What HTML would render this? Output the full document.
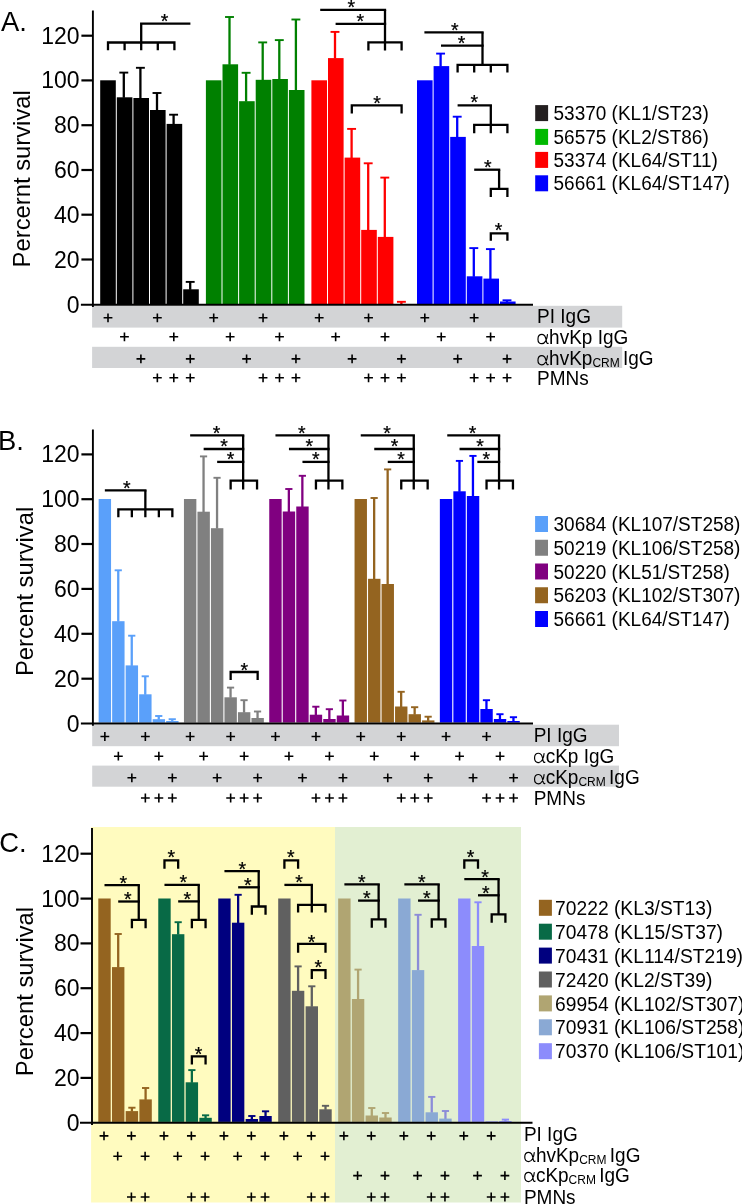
<!DOCTYPE html>
<html><head><meta charset="utf-8"><title>Figure</title>
<style>
html,body{margin:0;padding:0;background:#fff;}
body{width:742px;height:1204px;overflow:hidden;font-family:"Liberation Sans",sans-serif;}
svg{display:block;will-change:transform;}
text{fill:#000;white-space:pre;}
</style></head><body>
<svg width="742" height="1204" viewBox="0 0 742 1204">
<rect x="0" y="0" width="742" height="1204" fill="#fff"/>
<rect x="91.1" y="827" width="243.9" height="375.5" fill="#FFFBBF"/>
<rect x="335" y="827" width="186" height="375.5" fill="#E2EFD2"/>
<rect x="92.1" y="305.8" width="530.1" height="21.8" fill="#D3D4D6"/>
<rect x="92.1" y="346.8" width="530.1" height="21.2" fill="#D3D4D6"/>
<rect x="100.2" y="80.3" width="15.6" height="223.7" fill="#000000"/>
<line x1="123.8" y1="72.6" x2="123.8" y2="97.8" stroke="#000000" stroke-width="2.3" stroke-linecap="butt"/>
<line x1="119.35" y1="72.6" x2="128.25" y2="72.6" stroke="#000000" stroke-width="1.9" stroke-linecap="butt"/>
<rect x="116.8" y="97.3" width="15.6" height="206.7" fill="#000000"/>
<line x1="140.4" y1="67.8" x2="140.4" y2="98.5" stroke="#000000" stroke-width="2.3" stroke-linecap="butt"/>
<line x1="135.95" y1="67.8" x2="144.85" y2="67.8" stroke="#000000" stroke-width="1.9" stroke-linecap="butt"/>
<rect x="133.4" y="98" width="15.6" height="206" fill="#000000"/>
<line x1="157" y1="93" x2="157" y2="110.5" stroke="#000000" stroke-width="2.3" stroke-linecap="butt"/>
<line x1="152.55" y1="93" x2="161.45" y2="93" stroke="#000000" stroke-width="1.9" stroke-linecap="butt"/>
<rect x="150" y="110" width="15.6" height="194" fill="#000000"/>
<line x1="173.6" y1="114.7" x2="173.6" y2="124.4" stroke="#000000" stroke-width="2.3" stroke-linecap="butt"/>
<line x1="169.15" y1="114.7" x2="178.05" y2="114.7" stroke="#000000" stroke-width="1.9" stroke-linecap="butt"/>
<rect x="166.6" y="123.9" width="15.6" height="180.1" fill="#000000"/>
<line x1="190.2" y1="281.9" x2="190.2" y2="289.8" stroke="#000000" stroke-width="2.3" stroke-linecap="butt"/>
<line x1="185.75" y1="281.9" x2="194.65" y2="281.9" stroke="#000000" stroke-width="1.9" stroke-linecap="butt"/>
<rect x="183.2" y="289.3" width="15.6" height="14.7" fill="#000000"/>
<rect x="205.9" y="80.3" width="15.6" height="223.7" fill="#008000"/>
<line x1="229.5" y1="17" x2="229.5" y2="64.8" stroke="#008000" stroke-width="2.3" stroke-linecap="butt"/>
<line x1="225.05" y1="17" x2="233.95" y2="17" stroke="#008000" stroke-width="1.9" stroke-linecap="butt"/>
<rect x="222.5" y="64.3" width="15.6" height="239.7" fill="#008000"/>
<line x1="246.1" y1="72.8" x2="246.1" y2="101.7" stroke="#008000" stroke-width="2.3" stroke-linecap="butt"/>
<line x1="241.65" y1="72.8" x2="250.55" y2="72.8" stroke="#008000" stroke-width="1.9" stroke-linecap="butt"/>
<rect x="239.1" y="101.2" width="15.6" height="202.8" fill="#008000"/>
<line x1="262.7" y1="42.4" x2="262.7" y2="80.3" stroke="#008000" stroke-width="2.3" stroke-linecap="butt"/>
<line x1="258.25" y1="42.4" x2="267.15" y2="42.4" stroke="#008000" stroke-width="1.9" stroke-linecap="butt"/>
<rect x="255.7" y="79.8" width="15.6" height="224.2" fill="#008000"/>
<line x1="279.3" y1="40.1" x2="279.3" y2="79.5" stroke="#008000" stroke-width="2.3" stroke-linecap="butt"/>
<line x1="274.85" y1="40.1" x2="283.75" y2="40.1" stroke="#008000" stroke-width="1.9" stroke-linecap="butt"/>
<rect x="272.3" y="79" width="15.6" height="225" fill="#008000"/>
<line x1="295.9" y1="19.5" x2="295.9" y2="90.5" stroke="#008000" stroke-width="2.3" stroke-linecap="butt"/>
<line x1="291.45" y1="19.5" x2="300.35" y2="19.5" stroke="#008000" stroke-width="1.9" stroke-linecap="butt"/>
<rect x="288.9" y="90" width="15.6" height="214" fill="#008000"/>
<rect x="311.4" y="80.3" width="15.6" height="223.7" fill="#FF0000"/>
<line x1="335" y1="31.9" x2="335" y2="58.6" stroke="#FF0000" stroke-width="2.3" stroke-linecap="butt"/>
<line x1="330.55" y1="31.9" x2="339.45" y2="31.9" stroke="#FF0000" stroke-width="1.9" stroke-linecap="butt"/>
<rect x="328" y="58.1" width="15.6" height="245.9" fill="#FF0000"/>
<line x1="351.6" y1="128.9" x2="351.6" y2="158.1" stroke="#FF0000" stroke-width="2.3" stroke-linecap="butt"/>
<line x1="347.15" y1="128.9" x2="356.05" y2="128.9" stroke="#FF0000" stroke-width="1.9" stroke-linecap="butt"/>
<rect x="344.6" y="157.6" width="15.6" height="146.4" fill="#FF0000"/>
<line x1="368.2" y1="163.3" x2="368.2" y2="230.4" stroke="#FF0000" stroke-width="2.3" stroke-linecap="butt"/>
<line x1="363.75" y1="163.3" x2="372.65" y2="163.3" stroke="#FF0000" stroke-width="1.9" stroke-linecap="butt"/>
<rect x="361.2" y="229.9" width="15.6" height="74.1" fill="#FF0000"/>
<line x1="384.8" y1="177.6" x2="384.8" y2="237.4" stroke="#FF0000" stroke-width="2.3" stroke-linecap="butt"/>
<line x1="380.35" y1="177.6" x2="389.25" y2="177.6" stroke="#FF0000" stroke-width="1.9" stroke-linecap="butt"/>
<rect x="377.8" y="236.9" width="15.6" height="67.1" fill="#FF0000"/>
<line x1="401.4" y1="301.8" x2="401.4" y2="304.7" stroke="#FF0000" stroke-width="2.3" stroke-linecap="butt"/>
<line x1="396.95" y1="301.8" x2="405.85" y2="301.8" stroke="#FF0000" stroke-width="1.9" stroke-linecap="butt"/>
<rect x="394.4" y="304.2" width="15.6" height="-0.2" fill="#FF0000"/>
<rect x="417" y="80.3" width="15.6" height="223.7" fill="#0000FF"/>
<line x1="440.6" y1="53.6" x2="440.6" y2="66.6" stroke="#0000FF" stroke-width="2.3" stroke-linecap="butt"/>
<line x1="436.15" y1="53.6" x2="445.05" y2="53.6" stroke="#0000FF" stroke-width="1.9" stroke-linecap="butt"/>
<rect x="433.6" y="66.1" width="15.6" height="237.9" fill="#0000FF"/>
<line x1="457.2" y1="116.7" x2="457.2" y2="137.4" stroke="#0000FF" stroke-width="2.3" stroke-linecap="butt"/>
<line x1="452.75" y1="116.7" x2="461.65" y2="116.7" stroke="#0000FF" stroke-width="1.9" stroke-linecap="butt"/>
<rect x="450.2" y="136.9" width="15.6" height="167.1" fill="#0000FF"/>
<line x1="473.8" y1="248.1" x2="473.8" y2="276.8" stroke="#0000FF" stroke-width="2.3" stroke-linecap="butt"/>
<line x1="469.35" y1="248.1" x2="478.25" y2="248.1" stroke="#0000FF" stroke-width="1.9" stroke-linecap="butt"/>
<rect x="466.8" y="276.3" width="15.6" height="27.7" fill="#0000FF"/>
<line x1="490.4" y1="249.1" x2="490.4" y2="279.1" stroke="#0000FF" stroke-width="2.3" stroke-linecap="butt"/>
<line x1="485.95" y1="249.1" x2="494.85" y2="249.1" stroke="#0000FF" stroke-width="1.9" stroke-linecap="butt"/>
<rect x="483.4" y="278.6" width="15.6" height="25.4" fill="#0000FF"/>
<line x1="507" y1="300.3" x2="507" y2="302" stroke="#0000FF" stroke-width="2.3" stroke-linecap="butt"/>
<line x1="502.55" y1="300.3" x2="511.45" y2="300.3" stroke="#0000FF" stroke-width="1.9" stroke-linecap="butt"/>
<rect x="500" y="301.5" width="15.6" height="2.5" fill="#0000FF"/>
<line x1="92.9" y1="10.5" x2="92.9" y2="307" stroke="#000" stroke-width="1.9" stroke-linecap="butt"/>
<line x1="80.9" y1="304.8" x2="533" y2="304.8" stroke="#000" stroke-width="2.1" stroke-linecap="butt"/>
<line x1="81.4" y1="35.7" x2="92.9" y2="35.7" stroke="#000" stroke-width="2.2" stroke-linecap="butt"/>
<text xml:space="preserve" transform="translate(79.5 43.7) scale(1 1.035)" font-family='"Liberation Sans", sans-serif' font-size="23" text-anchor="end">120</text>
<line x1="81.4" y1="80.4" x2="92.9" y2="80.4" stroke="#000" stroke-width="2.2" stroke-linecap="butt"/>
<text xml:space="preserve" transform="translate(79.5 88.4) scale(1 1.035)" font-family='"Liberation Sans", sans-serif' font-size="23" text-anchor="end">100</text>
<line x1="81.4" y1="125.2" x2="92.9" y2="125.2" stroke="#000" stroke-width="2.2" stroke-linecap="butt"/>
<text xml:space="preserve" transform="translate(79.5 133.2) scale(1 1.035)" font-family='"Liberation Sans", sans-serif' font-size="23" text-anchor="end">80</text>
<line x1="81.4" y1="170" x2="92.9" y2="170" stroke="#000" stroke-width="2.2" stroke-linecap="butt"/>
<text xml:space="preserve" transform="translate(79.5 178) scale(1 1.035)" font-family='"Liberation Sans", sans-serif' font-size="23" text-anchor="end">60</text>
<line x1="81.4" y1="214.7" x2="92.9" y2="214.7" stroke="#000" stroke-width="2.2" stroke-linecap="butt"/>
<text xml:space="preserve" transform="translate(79.5 222.7) scale(1 1.035)" font-family='"Liberation Sans", sans-serif' font-size="23" text-anchor="end">40</text>
<line x1="81.4" y1="259.5" x2="92.9" y2="259.5" stroke="#000" stroke-width="2.2" stroke-linecap="butt"/>
<text xml:space="preserve" transform="translate(79.5 267.5) scale(1 1.035)" font-family='"Liberation Sans", sans-serif' font-size="23" text-anchor="end">20</text>
<text xml:space="preserve" transform="translate(79.5 312.8) scale(1 1.035)" font-family='"Liberation Sans", sans-serif' font-size="23" text-anchor="end">0</text>
<path d="M108 50.2V42.5H174.4V50.2M124.6 42.5V50.2M141.2 42.5V50.2M157.8 42.5V50.2" fill="none" stroke="#000" stroke-width="2.3" stroke-linejoin="miter"/>
<path d="M141.2 42.5V23.7H190.4" fill="none" stroke="#000" stroke-width="2.3" stroke-linejoin="miter"/>
<text xml:space="preserve" transform="translate(164.6 27.6) scale(1 1)" font-family='"Liberation Sans", sans-serif' font-size="19.5" text-anchor="middle" stroke="#000" stroke-width="0.25">*</text>
<line x1="320.2" y1="9.8" x2="386.15" y2="9.8" stroke="#000" stroke-width="2.3" stroke-linecap="butt"/>
<line x1="335.6" y1="23.9" x2="386.15" y2="23.9" stroke="#000" stroke-width="2.3" stroke-linecap="butt"/>
<line x1="385" y1="9.8" x2="385" y2="42.3" stroke="#000" stroke-width="2.3" stroke-linecap="butt"/>
<path d="M368.4 50.4V42.3H401.6V50.4M385 42.3V50.4" fill="none" stroke="#000" stroke-width="2.3" stroke-linejoin="miter"/>
<text xml:space="preserve" transform="translate(351.4 14) scale(1 1)" font-family='"Liberation Sans", sans-serif' font-size="19.5" text-anchor="middle" stroke="#000" stroke-width="0.25">*</text>
<text xml:space="preserve" transform="translate(360.4 27.7) scale(1 1)" font-family='"Liberation Sans", sans-serif' font-size="19.5" text-anchor="middle" stroke="#000" stroke-width="0.25">*</text>
<path d="M351.8 113.6V105.3H401.6V113.6" fill="none" stroke="#000" stroke-width="2.3" stroke-linejoin="miter"/>
<text xml:space="preserve" transform="translate(377 109.6) scale(1 1)" font-family='"Liberation Sans", sans-serif' font-size="19.5" text-anchor="middle" stroke="#000" stroke-width="0.25">*</text>
<line x1="424.4" y1="32.4" x2="483.65" y2="32.4" stroke="#000" stroke-width="2.3" stroke-linecap="butt"/>
<line x1="441" y1="45.7" x2="483.65" y2="45.7" stroke="#000" stroke-width="2.3" stroke-linecap="butt"/>
<line x1="482.5" y1="32.4" x2="482.5" y2="64.8" stroke="#000" stroke-width="2.3" stroke-linecap="butt"/>
<path d="M457.6 72.6V64.8H507.4V72.6M474.2 64.8V72.6M490.8 64.8V72.6" fill="none" stroke="#000" stroke-width="2.3" stroke-linejoin="miter"/>
<text xml:space="preserve" transform="translate(454.8 36.8) scale(1 1)" font-family='"Liberation Sans", sans-serif' font-size="19.5" text-anchor="middle" stroke="#000" stroke-width="0.25">*</text>
<text xml:space="preserve" transform="translate(461.5 50) scale(1 1)" font-family='"Liberation Sans", sans-serif' font-size="19.5" text-anchor="middle" stroke="#000" stroke-width="0.25">*</text>
<line x1="457.6" y1="105.3" x2="491.95" y2="105.3" stroke="#000" stroke-width="2.3" stroke-linecap="butt"/>
<line x1="490.8" y1="105.3" x2="490.8" y2="124.9" stroke="#000" stroke-width="2.3" stroke-linecap="butt"/>
<path d="M474.2 133.2V124.9H507.4V133.2M490.8 124.9V133.2" fill="none" stroke="#000" stroke-width="2.3" stroke-linejoin="miter"/>
<text xml:space="preserve" transform="translate(474.2 109.4) scale(1 1)" font-family='"Liberation Sans", sans-serif' font-size="19.5" text-anchor="middle" stroke="#000" stroke-width="0.25">*</text>
<line x1="474.2" y1="169.7" x2="500.25" y2="169.7" stroke="#000" stroke-width="2.3" stroke-linecap="butt"/>
<line x1="499.1" y1="169.7" x2="499.1" y2="188.9" stroke="#000" stroke-width="2.3" stroke-linecap="butt"/>
<path d="M490.8 197V188.9H507.4V197" fill="none" stroke="#000" stroke-width="2.3" stroke-linejoin="miter"/>
<text xml:space="preserve" transform="translate(487.7 173.5) scale(1 1)" font-family='"Liberation Sans", sans-serif' font-size="19.5" text-anchor="middle" stroke="#000" stroke-width="0.25">*</text>
<path d="M490.8 240.8V233.3H507.4V240.8" fill="none" stroke="#000" stroke-width="2.3" stroke-linejoin="miter"/>
<text xml:space="preserve" transform="translate(498.6 237.4) scale(1 1)" font-family='"Liberation Sans", sans-serif' font-size="19.5" text-anchor="middle" stroke="#000" stroke-width="0.25">*</text>
<path d="M103.6 317.8H112.4M108 313.4V322.2" stroke="#000" stroke-width="1.6" fill="none"/>
<path d="M152.95 317.8H161.75M157.35 313.4V322.2" stroke="#000" stroke-width="1.6" fill="none"/>
<path d="M120.05 336.8H128.85M124.45 332.4V341.2" stroke="#000" stroke-width="1.6" fill="none"/>
<path d="M169.4 336.8H178.2M173.8 332.4V341.2" stroke="#000" stroke-width="1.6" fill="none"/>
<path d="M136.5 358.9H145.3M140.9 354.5V363.3" stroke="#000" stroke-width="1.6" fill="none"/>
<path d="M185.85 358.9H194.65M190.25 354.5V363.3" stroke="#000" stroke-width="1.6" fill="none"/>
<path d="M152.95 377.8H161.75M157.35 373.4V382.2" stroke="#000" stroke-width="1.6" fill="none"/>
<path d="M169.4 377.8H178.2M173.8 373.4V382.2" stroke="#000" stroke-width="1.6" fill="none"/>
<path d="M185.85 377.8H194.65M190.25 373.4V382.2" stroke="#000" stroke-width="1.6" fill="none"/>
<path d="M209.3 317.8H218.1M213.7 313.4V322.2" stroke="#000" stroke-width="1.6" fill="none"/>
<path d="M258.65 317.8H267.45M263.05 313.4V322.2" stroke="#000" stroke-width="1.6" fill="none"/>
<path d="M225.75 336.8H234.55M230.15 332.4V341.2" stroke="#000" stroke-width="1.6" fill="none"/>
<path d="M275.1 336.8H283.9M279.5 332.4V341.2" stroke="#000" stroke-width="1.6" fill="none"/>
<path d="M242.2 358.9H251M246.6 354.5V363.3" stroke="#000" stroke-width="1.6" fill="none"/>
<path d="M291.55 358.9H300.35M295.95 354.5V363.3" stroke="#000" stroke-width="1.6" fill="none"/>
<path d="M258.65 377.8H267.45M263.05 373.4V382.2" stroke="#000" stroke-width="1.6" fill="none"/>
<path d="M275.1 377.8H283.9M279.5 373.4V382.2" stroke="#000" stroke-width="1.6" fill="none"/>
<path d="M291.55 377.8H300.35M295.95 373.4V382.2" stroke="#000" stroke-width="1.6" fill="none"/>
<path d="M314.8 317.8H323.6M319.2 313.4V322.2" stroke="#000" stroke-width="1.6" fill="none"/>
<path d="M364.15 317.8H372.95M368.55 313.4V322.2" stroke="#000" stroke-width="1.6" fill="none"/>
<path d="M331.25 336.8H340.05M335.65 332.4V341.2" stroke="#000" stroke-width="1.6" fill="none"/>
<path d="M380.6 336.8H389.4M385 332.4V341.2" stroke="#000" stroke-width="1.6" fill="none"/>
<path d="M347.7 358.9H356.5M352.1 354.5V363.3" stroke="#000" stroke-width="1.6" fill="none"/>
<path d="M397.05 358.9H405.85M401.45 354.5V363.3" stroke="#000" stroke-width="1.6" fill="none"/>
<path d="M364.15 377.8H372.95M368.55 373.4V382.2" stroke="#000" stroke-width="1.6" fill="none"/>
<path d="M380.6 377.8H389.4M385 373.4V382.2" stroke="#000" stroke-width="1.6" fill="none"/>
<path d="M397.05 377.8H405.85M401.45 373.4V382.2" stroke="#000" stroke-width="1.6" fill="none"/>
<path d="M420.4 317.8H429.2M424.8 313.4V322.2" stroke="#000" stroke-width="1.6" fill="none"/>
<path d="M469.75 317.8H478.55M474.15 313.4V322.2" stroke="#000" stroke-width="1.6" fill="none"/>
<path d="M436.85 336.8H445.65M441.25 332.4V341.2" stroke="#000" stroke-width="1.6" fill="none"/>
<path d="M486.2 336.8H495M490.6 332.4V341.2" stroke="#000" stroke-width="1.6" fill="none"/>
<path d="M453.3 358.9H462.1M457.7 354.5V363.3" stroke="#000" stroke-width="1.6" fill="none"/>
<path d="M502.65 358.9H511.45M507.05 354.5V363.3" stroke="#000" stroke-width="1.6" fill="none"/>
<path d="M469.75 377.8H478.55M474.15 373.4V382.2" stroke="#000" stroke-width="1.6" fill="none"/>
<path d="M486.2 377.8H495M490.6 373.4V382.2" stroke="#000" stroke-width="1.6" fill="none"/>
<path d="M502.65 377.8H511.45M507.05 373.4V382.2" stroke="#000" stroke-width="1.6" fill="none"/>
<text xml:space="preserve" transform="translate(537.1 322.5) scale(1 1.035)" font-family='"Liberation Sans", sans-serif' font-size="19" text-anchor="start">PI IgG</text>
<path d="M547.46 334.58C547.17 339.8 544.7 343.7 541.95 343.7C539.38 343.7 537.96 341.7 537.96 339.14C537.96 336.48 539.48 334.39 542.04 334.39C544.7 334.39 545.84 337.33 546.32 340.94C546.6 343.03 547.46 343.89 548.22 343.31" fill="none" stroke="#000" stroke-width="1.18" stroke-linecap="round" stroke-linejoin="round"/>
<text xml:space="preserve" transform="translate(549.09 343.6) scale(1 1.035)" font-family='"Liberation Sans", sans-serif' font-size="19" text-anchor="start">hvKp IgG</text>
<path d="M547.46 355.78C547.17 361 544.7 364.9 541.95 364.9C539.38 364.9 537.96 362.9 537.96 360.34C537.96 357.68 539.48 355.59 542.04 355.59C544.7 355.59 545.84 358.53 546.32 362.14C546.6 364.23 547.46 365.09 548.22 364.51" fill="none" stroke="#000" stroke-width="1.18" stroke-linecap="round" stroke-linejoin="round"/>
<text xml:space="preserve" transform="translate(549.09 364.8) scale(1 1.035)" font-family='"Liberation Sans", sans-serif' font-size="19" text-anchor="start">hvKp<tspan font-size="12" dy="2">CRM </tspan><tspan dy="-2">IgG</tspan></text>
<text xml:space="preserve" transform="translate(537.1 385.4) scale(1 1.035)" font-family='"Liberation Sans", sans-serif' font-size="19" text-anchor="start">PMNs</text>
<rect x="535.2" y="105.1" width="12.9" height="16" fill="#231F20"/>
<text xml:space="preserve" transform="translate(553.5 120.2) scale(1 1.035)" font-family='"Liberation Sans", sans-serif' font-size="19" text-anchor="start">53370 (KL1/ST23)</text>
<rect x="535.2" y="128.9" width="12.9" height="16" fill="#00B900"/>
<text xml:space="preserve" transform="translate(553.5 143.6) scale(1 1.035)" font-family='"Liberation Sans", sans-serif' font-size="19" text-anchor="start">56575 (KL2/ST86)</text>
<rect x="535.2" y="151.9" width="12.9" height="16" fill="#FF0000"/>
<text xml:space="preserve" transform="translate(553.5 167) scale(1 1.035)" font-family='"Liberation Sans", sans-serif' font-size="19" text-anchor="start">53374 (KL64/ST11)</text>
<rect x="535.2" y="175.3" width="12.9" height="16" fill="#0000FF"/>
<text xml:space="preserve" transform="translate(553.5 190.4) scale(1 1.035)" font-family='"Liberation Sans", sans-serif' font-size="19" text-anchor="start">56661 (KL64/ST147)</text>
<text xml:space="preserve" transform="translate(1.1 30.9) scale(1 1.035)" font-family='"Liberation Sans", sans-serif' font-size="27.4" text-anchor="start">A.</text>
<text transform="translate(30.3 267.4) rotate(-90)" font-family='"Liberation Sans", sans-serif' font-size="23.8">Percernt survival</text>
<rect x="92.2" y="724.7" width="526.8" height="21.5" fill="#D3D4D6"/>
<rect x="92.2" y="765.6" width="526.8" height="21.1" fill="#D3D4D6"/>
<rect x="98.65" y="499" width="12.4" height="223.6" fill="#5AA0FA"/>
<line x1="118.25" y1="570.3" x2="118.25" y2="621.7" stroke="#5AA0FA" stroke-width="2.3" stroke-linecap="butt"/>
<line x1="114.65" y1="570.3" x2="121.85" y2="570.3" stroke="#5AA0FA" stroke-width="1.9" stroke-linecap="butt"/>
<rect x="112.15" y="621.2" width="12.4" height="101.4" fill="#5AA0FA"/>
<line x1="131.75" y1="635.7" x2="131.75" y2="665.9" stroke="#5AA0FA" stroke-width="2.3" stroke-linecap="butt"/>
<line x1="128.15" y1="635.7" x2="135.35" y2="635.7" stroke="#5AA0FA" stroke-width="1.9" stroke-linecap="butt"/>
<rect x="125.65" y="665.4" width="12.4" height="57.2" fill="#5AA0FA"/>
<line x1="145.25" y1="676.3" x2="145.25" y2="694.8" stroke="#5AA0FA" stroke-width="2.3" stroke-linecap="butt"/>
<line x1="141.65" y1="676.3" x2="148.85" y2="676.3" stroke="#5AA0FA" stroke-width="1.9" stroke-linecap="butt"/>
<rect x="139.15" y="694.3" width="12.4" height="28.3" fill="#5AA0FA"/>
<line x1="158.75" y1="716" x2="158.75" y2="719.7" stroke="#5AA0FA" stroke-width="2.3" stroke-linecap="butt"/>
<line x1="155.15" y1="716" x2="162.35" y2="716" stroke="#5AA0FA" stroke-width="1.9" stroke-linecap="butt"/>
<rect x="152.65" y="719.2" width="12.4" height="3.4" fill="#5AA0FA"/>
<line x1="172.25" y1="719.2" x2="172.25" y2="721.5" stroke="#5AA0FA" stroke-width="2.3" stroke-linecap="butt"/>
<line x1="168.65" y1="719.2" x2="175.85" y2="719.2" stroke="#5AA0FA" stroke-width="1.9" stroke-linecap="butt"/>
<rect x="166.15" y="721" width="12.4" height="1.6" fill="#5AA0FA"/>
<rect x="183.95" y="499" width="12.4" height="223.6" fill="#808080"/>
<line x1="203.55" y1="456.4" x2="203.55" y2="512.2" stroke="#808080" stroke-width="2.3" stroke-linecap="butt"/>
<line x1="199.95" y1="456.4" x2="207.15" y2="456.4" stroke="#808080" stroke-width="1.9" stroke-linecap="butt"/>
<rect x="197.45" y="511.7" width="12.4" height="210.9" fill="#808080"/>
<line x1="217.05" y1="477.8" x2="217.05" y2="528.7" stroke="#808080" stroke-width="2.3" stroke-linecap="butt"/>
<line x1="213.45" y1="477.8" x2="220.65" y2="477.8" stroke="#808080" stroke-width="1.9" stroke-linecap="butt"/>
<rect x="210.95" y="528.2" width="12.4" height="194.4" fill="#808080"/>
<line x1="230.55" y1="687.6" x2="230.55" y2="697.8" stroke="#808080" stroke-width="2.3" stroke-linecap="butt"/>
<line x1="226.95" y1="687.6" x2="234.15" y2="687.6" stroke="#808080" stroke-width="1.9" stroke-linecap="butt"/>
<rect x="224.45" y="697.3" width="12.4" height="25.3" fill="#808080"/>
<line x1="244.05" y1="700.2" x2="244.05" y2="712.7" stroke="#808080" stroke-width="2.3" stroke-linecap="butt"/>
<line x1="240.45" y1="700.2" x2="247.65" y2="700.2" stroke="#808080" stroke-width="1.9" stroke-linecap="butt"/>
<rect x="237.95" y="712.2" width="12.4" height="10.4" fill="#808080"/>
<line x1="257.55" y1="711.5" x2="257.55" y2="718.5" stroke="#808080" stroke-width="2.3" stroke-linecap="butt"/>
<line x1="253.95" y1="711.5" x2="261.15" y2="711.5" stroke="#808080" stroke-width="1.9" stroke-linecap="butt"/>
<rect x="251.45" y="718" width="12.4" height="4.6" fill="#808080"/>
<rect x="269.25" y="499" width="12.4" height="223.6" fill="#800080"/>
<line x1="288.85" y1="489" x2="288.85" y2="512" stroke="#800080" stroke-width="2.3" stroke-linecap="butt"/>
<line x1="285.25" y1="489" x2="292.45" y2="489" stroke="#800080" stroke-width="1.9" stroke-linecap="butt"/>
<rect x="282.75" y="511.5" width="12.4" height="211.1" fill="#800080"/>
<line x1="302.35" y1="475.8" x2="302.35" y2="507" stroke="#800080" stroke-width="2.3" stroke-linecap="butt"/>
<line x1="298.75" y1="475.8" x2="305.95" y2="475.8" stroke="#800080" stroke-width="1.9" stroke-linecap="butt"/>
<rect x="296.25" y="506.5" width="12.4" height="216.1" fill="#800080"/>
<line x1="315.85" y1="706.7" x2="315.85" y2="715.2" stroke="#800080" stroke-width="2.3" stroke-linecap="butt"/>
<line x1="312.25" y1="706.7" x2="319.45" y2="706.7" stroke="#800080" stroke-width="1.9" stroke-linecap="butt"/>
<rect x="309.75" y="714.7" width="12.4" height="7.9" fill="#800080"/>
<line x1="329.35" y1="709.2" x2="329.35" y2="719.5" stroke="#800080" stroke-width="2.3" stroke-linecap="butt"/>
<line x1="325.75" y1="709.2" x2="332.95" y2="709.2" stroke="#800080" stroke-width="1.9" stroke-linecap="butt"/>
<rect x="323.25" y="719" width="12.4" height="3.6" fill="#800080"/>
<line x1="342.85" y1="700.5" x2="342.85" y2="716" stroke="#800080" stroke-width="2.3" stroke-linecap="butt"/>
<line x1="339.25" y1="700.5" x2="346.45" y2="700.5" stroke="#800080" stroke-width="1.9" stroke-linecap="butt"/>
<rect x="336.75" y="715.5" width="12.4" height="7.1" fill="#800080"/>
<rect x="354.55" y="499" width="12.4" height="223.6" fill="#946420"/>
<line x1="374.15" y1="498" x2="374.15" y2="579.3" stroke="#946420" stroke-width="2.3" stroke-linecap="butt"/>
<line x1="370.55" y1="498" x2="377.75" y2="498" stroke="#946420" stroke-width="1.9" stroke-linecap="butt"/>
<rect x="368.05" y="578.8" width="12.4" height="143.8" fill="#946420"/>
<line x1="387.65" y1="469.4" x2="387.65" y2="584.5" stroke="#946420" stroke-width="2.3" stroke-linecap="butt"/>
<line x1="384.05" y1="469.4" x2="391.25" y2="469.4" stroke="#946420" stroke-width="1.9" stroke-linecap="butt"/>
<rect x="381.55" y="584" width="12.4" height="138.6" fill="#946420"/>
<line x1="401.15" y1="691.8" x2="401.15" y2="707" stroke="#946420" stroke-width="2.3" stroke-linecap="butt"/>
<line x1="397.55" y1="691.8" x2="404.75" y2="691.8" stroke="#946420" stroke-width="1.9" stroke-linecap="butt"/>
<rect x="395.05" y="706.5" width="12.4" height="16.1" fill="#946420"/>
<line x1="414.65" y1="707.2" x2="414.65" y2="714.7" stroke="#946420" stroke-width="2.3" stroke-linecap="butt"/>
<line x1="411.05" y1="707.2" x2="418.25" y2="707.2" stroke="#946420" stroke-width="1.9" stroke-linecap="butt"/>
<rect x="408.55" y="714.2" width="12.4" height="8.4" fill="#946420"/>
<line x1="428.15" y1="716.7" x2="428.15" y2="720.9" stroke="#946420" stroke-width="2.3" stroke-linecap="butt"/>
<line x1="424.55" y1="716.7" x2="431.75" y2="716.7" stroke="#946420" stroke-width="1.9" stroke-linecap="butt"/>
<rect x="422.05" y="720.4" width="12.4" height="2.2" fill="#946420"/>
<rect x="439.85" y="499" width="12.4" height="223.6" fill="#0000FF"/>
<line x1="459.45" y1="460.9" x2="459.45" y2="491.8" stroke="#0000FF" stroke-width="2.3" stroke-linecap="butt"/>
<line x1="455.85" y1="460.9" x2="463.05" y2="460.9" stroke="#0000FF" stroke-width="1.9" stroke-linecap="butt"/>
<rect x="453.35" y="491.3" width="12.4" height="231.3" fill="#0000FF"/>
<line x1="472.95" y1="455.9" x2="472.95" y2="496.5" stroke="#0000FF" stroke-width="2.3" stroke-linecap="butt"/>
<line x1="469.35" y1="455.9" x2="476.55" y2="455.9" stroke="#0000FF" stroke-width="1.9" stroke-linecap="butt"/>
<rect x="466.85" y="496" width="12.4" height="226.6" fill="#0000FF"/>
<line x1="486.45" y1="700.2" x2="486.45" y2="709.5" stroke="#0000FF" stroke-width="2.3" stroke-linecap="butt"/>
<line x1="482.85" y1="700.2" x2="490.05" y2="700.2" stroke="#0000FF" stroke-width="1.9" stroke-linecap="butt"/>
<rect x="480.35" y="709" width="12.4" height="13.6" fill="#0000FF"/>
<line x1="499.95" y1="714.2" x2="499.95" y2="719.5" stroke="#0000FF" stroke-width="2.3" stroke-linecap="butt"/>
<line x1="496.35" y1="714.2" x2="503.55" y2="714.2" stroke="#0000FF" stroke-width="1.9" stroke-linecap="butt"/>
<rect x="493.85" y="719" width="12.4" height="3.6" fill="#0000FF"/>
<line x1="513.45" y1="717.2" x2="513.45" y2="721.5" stroke="#0000FF" stroke-width="2.3" stroke-linecap="butt"/>
<line x1="509.85" y1="717.2" x2="517.05" y2="717.2" stroke="#0000FF" stroke-width="1.9" stroke-linecap="butt"/>
<rect x="507.35" y="721" width="12.4" height="1.6" fill="#0000FF"/>
<line x1="92.9" y1="429.5" x2="92.9" y2="725.7" stroke="#000" stroke-width="1.9" stroke-linecap="butt"/>
<line x1="80.9" y1="723.5" x2="533" y2="723.5" stroke="#000" stroke-width="2.1" stroke-linecap="butt"/>
<line x1="81.4" y1="454.4" x2="92.9" y2="454.4" stroke="#000" stroke-width="2.2" stroke-linecap="butt"/>
<text xml:space="preserve" transform="translate(79.5 462.4) scale(1 1.035)" font-family='"Liberation Sans", sans-serif' font-size="23" text-anchor="end">120</text>
<line x1="81.4" y1="499.2" x2="92.9" y2="499.2" stroke="#000" stroke-width="2.2" stroke-linecap="butt"/>
<text xml:space="preserve" transform="translate(79.5 507.2) scale(1 1.035)" font-family='"Liberation Sans", sans-serif' font-size="23" text-anchor="end">100</text>
<line x1="81.4" y1="544" x2="92.9" y2="544" stroke="#000" stroke-width="2.2" stroke-linecap="butt"/>
<text xml:space="preserve" transform="translate(79.5 552) scale(1 1.035)" font-family='"Liberation Sans", sans-serif' font-size="23" text-anchor="end">80</text>
<line x1="81.4" y1="588.9" x2="92.9" y2="588.9" stroke="#000" stroke-width="2.2" stroke-linecap="butt"/>
<text xml:space="preserve" transform="translate(79.5 596.9) scale(1 1.035)" font-family='"Liberation Sans", sans-serif' font-size="23" text-anchor="end">60</text>
<line x1="81.4" y1="633.8" x2="92.9" y2="633.8" stroke="#000" stroke-width="2.2" stroke-linecap="butt"/>
<text xml:space="preserve" transform="translate(79.5 641.8) scale(1 1.035)" font-family='"Liberation Sans", sans-serif' font-size="23" text-anchor="end">40</text>
<line x1="81.4" y1="678.7" x2="92.9" y2="678.7" stroke="#000" stroke-width="2.2" stroke-linecap="butt"/>
<text xml:space="preserve" transform="translate(79.5 686.7) scale(1 1.035)" font-family='"Liberation Sans", sans-serif' font-size="23" text-anchor="end">20</text>
<text xml:space="preserve" transform="translate(79.5 731.5) scale(1 1.035)" font-family='"Liberation Sans", sans-serif' font-size="23" text-anchor="end">0</text>
<line x1="104.85" y1="490.3" x2="146.5" y2="490.3" stroke="#000" stroke-width="2.3" stroke-linecap="butt"/>
<line x1="145.35" y1="490.3" x2="145.35" y2="509.3" stroke="#000" stroke-width="2.3" stroke-linecap="butt"/>
<path d="M118.35 517.3V509.3H172.35V517.3M131.85 509.3V517.3M145.35 509.3V517.3M158.85 509.3V517.3" fill="none" stroke="#000" stroke-width="2.3" stroke-linejoin="miter"/>
<text xml:space="preserve" transform="translate(126.7 494.8) scale(1 1)" font-family='"Liberation Sans", sans-serif' font-size="19.5" text-anchor="middle" stroke="#000" stroke-width="0.25">*</text>
<line x1="190.15" y1="435.4" x2="244.3" y2="435.4" stroke="#000" stroke-width="2.3" stroke-linecap="butt"/>
<line x1="203.65" y1="449" x2="244.3" y2="449" stroke="#000" stroke-width="2.3" stroke-linecap="butt"/>
<line x1="217.15" y1="461.9" x2="244.3" y2="461.9" stroke="#000" stroke-width="2.3" stroke-linecap="butt"/>
<line x1="243.15" y1="435.4" x2="243.15" y2="480.6" stroke="#000" stroke-width="2.3" stroke-linecap="butt"/>
<path d="M230.65 489.5V480.6H257.05V489.5M243.15 480.6V489.5" fill="none" stroke="#000" stroke-width="2.3" stroke-linejoin="miter"/>
<text xml:space="preserve" transform="translate(216.55 440.2) scale(1 1)" font-family='"Liberation Sans", sans-serif' font-size="19.5" text-anchor="middle" stroke="#000" stroke-width="0.25">*</text>
<text xml:space="preserve" transform="translate(224.05 452.9) scale(1 1)" font-family='"Liberation Sans", sans-serif' font-size="19.5" text-anchor="middle" stroke="#000" stroke-width="0.25">*</text>
<text xml:space="preserve" transform="translate(230.45 466.1) scale(1 1)" font-family='"Liberation Sans", sans-serif' font-size="19.5" text-anchor="middle" stroke="#000" stroke-width="0.25">*</text>
<line x1="275.45" y1="435.4" x2="329.6" y2="435.4" stroke="#000" stroke-width="2.3" stroke-linecap="butt"/>
<line x1="288.95" y1="449" x2="329.6" y2="449" stroke="#000" stroke-width="2.3" stroke-linecap="butt"/>
<line x1="302.45" y1="461.9" x2="329.6" y2="461.9" stroke="#000" stroke-width="2.3" stroke-linecap="butt"/>
<line x1="328.45" y1="435.4" x2="328.45" y2="480.6" stroke="#000" stroke-width="2.3" stroke-linecap="butt"/>
<path d="M315.95 489.5V480.6H342.35V489.5M328.45 480.6V489.5" fill="none" stroke="#000" stroke-width="2.3" stroke-linejoin="miter"/>
<text xml:space="preserve" transform="translate(301.85 440.2) scale(1 1)" font-family='"Liberation Sans", sans-serif' font-size="19.5" text-anchor="middle" stroke="#000" stroke-width="0.25">*</text>
<text xml:space="preserve" transform="translate(309.35 452.9) scale(1 1)" font-family='"Liberation Sans", sans-serif' font-size="19.5" text-anchor="middle" stroke="#000" stroke-width="0.25">*</text>
<text xml:space="preserve" transform="translate(315.75 466.1) scale(1 1)" font-family='"Liberation Sans", sans-serif' font-size="19.5" text-anchor="middle" stroke="#000" stroke-width="0.25">*</text>
<line x1="360.75" y1="435.4" x2="414.9" y2="435.4" stroke="#000" stroke-width="2.3" stroke-linecap="butt"/>
<line x1="374.25" y1="449" x2="414.9" y2="449" stroke="#000" stroke-width="2.3" stroke-linecap="butt"/>
<line x1="387.75" y1="461.9" x2="414.9" y2="461.9" stroke="#000" stroke-width="2.3" stroke-linecap="butt"/>
<line x1="413.75" y1="435.4" x2="413.75" y2="480.6" stroke="#000" stroke-width="2.3" stroke-linecap="butt"/>
<path d="M401.25 489.5V480.6H427.65V489.5M413.75 480.6V489.5" fill="none" stroke="#000" stroke-width="2.3" stroke-linejoin="miter"/>
<text xml:space="preserve" transform="translate(387.15 440.2) scale(1 1)" font-family='"Liberation Sans", sans-serif' font-size="19.5" text-anchor="middle" stroke="#000" stroke-width="0.25">*</text>
<text xml:space="preserve" transform="translate(394.65 452.9) scale(1 1)" font-family='"Liberation Sans", sans-serif' font-size="19.5" text-anchor="middle" stroke="#000" stroke-width="0.25">*</text>
<text xml:space="preserve" transform="translate(401.05 466.1) scale(1 1)" font-family='"Liberation Sans", sans-serif' font-size="19.5" text-anchor="middle" stroke="#000" stroke-width="0.25">*</text>
<line x1="447.25" y1="435.4" x2="500.2" y2="435.4" stroke="#000" stroke-width="2.3" stroke-linecap="butt"/>
<line x1="459.55" y1="449" x2="500.2" y2="449" stroke="#000" stroke-width="2.3" stroke-linecap="butt"/>
<line x1="477.35" y1="461.9" x2="500.2" y2="461.9" stroke="#000" stroke-width="2.3" stroke-linecap="butt"/>
<line x1="499.05" y1="435.4" x2="499.05" y2="480.6" stroke="#000" stroke-width="2.3" stroke-linecap="butt"/>
<path d="M486.55 489.5V480.6H512.95V489.5M499.05 480.6V489.5" fill="none" stroke="#000" stroke-width="2.3" stroke-linejoin="miter"/>
<text xml:space="preserve" transform="translate(472.45 440.2) scale(1 1)" font-family='"Liberation Sans", sans-serif' font-size="19.5" text-anchor="middle" stroke="#000" stroke-width="0.25">*</text>
<text xml:space="preserve" transform="translate(479.95 452.9) scale(1 1)" font-family='"Liberation Sans", sans-serif' font-size="19.5" text-anchor="middle" stroke="#000" stroke-width="0.25">*</text>
<text xml:space="preserve" transform="translate(486.35 466.1) scale(1 1)" font-family='"Liberation Sans", sans-serif' font-size="19.5" text-anchor="middle" stroke="#000" stroke-width="0.25">*</text>
<path d="M230.65 679.9V672H257.65V679.9" fill="none" stroke="#000" stroke-width="2.3" stroke-linejoin="miter"/>
<text xml:space="preserve" transform="translate(244.3 676.7) scale(1 1)" font-family='"Liberation Sans", sans-serif' font-size="19.5" text-anchor="middle" stroke="#000" stroke-width="0.25">*</text>
<path d="M100.45 736.5H109.25M104.85 732.1V740.9" stroke="#000" stroke-width="1.6" fill="none"/>
<path d="M140.95 736.5H149.75M145.35 732.1V740.9" stroke="#000" stroke-width="1.6" fill="none"/>
<path d="M113.95 756.2H122.75M118.35 751.8V760.6" stroke="#000" stroke-width="1.6" fill="none"/>
<path d="M154.45 756.2H163.25M158.85 751.8V760.6" stroke="#000" stroke-width="1.6" fill="none"/>
<path d="M127.45 777.8H136.25M131.85 773.4V782.2" stroke="#000" stroke-width="1.6" fill="none"/>
<path d="M167.95 777.8H176.75M172.35 773.4V782.2" stroke="#000" stroke-width="1.6" fill="none"/>
<path d="M140.95 798H149.75M145.35 793.6V802.4" stroke="#000" stroke-width="1.6" fill="none"/>
<path d="M154.45 798H163.25M158.85 793.6V802.4" stroke="#000" stroke-width="1.6" fill="none"/>
<path d="M167.95 798H176.75M172.35 793.6V802.4" stroke="#000" stroke-width="1.6" fill="none"/>
<path d="M185.75 736.5H194.55M190.15 732.1V740.9" stroke="#000" stroke-width="1.6" fill="none"/>
<path d="M226.25 736.5H235.05M230.65 732.1V740.9" stroke="#000" stroke-width="1.6" fill="none"/>
<path d="M199.25 756.2H208.05M203.65 751.8V760.6" stroke="#000" stroke-width="1.6" fill="none"/>
<path d="M239.75 756.2H248.55M244.15 751.8V760.6" stroke="#000" stroke-width="1.6" fill="none"/>
<path d="M212.75 777.8H221.55M217.15 773.4V782.2" stroke="#000" stroke-width="1.6" fill="none"/>
<path d="M253.25 777.8H262.05M257.65 773.4V782.2" stroke="#000" stroke-width="1.6" fill="none"/>
<path d="M226.25 798H235.05M230.65 793.6V802.4" stroke="#000" stroke-width="1.6" fill="none"/>
<path d="M239.75 798H248.55M244.15 793.6V802.4" stroke="#000" stroke-width="1.6" fill="none"/>
<path d="M253.25 798H262.05M257.65 793.6V802.4" stroke="#000" stroke-width="1.6" fill="none"/>
<path d="M271.05 736.5H279.85M275.45 732.1V740.9" stroke="#000" stroke-width="1.6" fill="none"/>
<path d="M311.55 736.5H320.35M315.95 732.1V740.9" stroke="#000" stroke-width="1.6" fill="none"/>
<path d="M284.55 756.2H293.35M288.95 751.8V760.6" stroke="#000" stroke-width="1.6" fill="none"/>
<path d="M325.05 756.2H333.85M329.45 751.8V760.6" stroke="#000" stroke-width="1.6" fill="none"/>
<path d="M298.05 777.8H306.85M302.45 773.4V782.2" stroke="#000" stroke-width="1.6" fill="none"/>
<path d="M338.55 777.8H347.35M342.95 773.4V782.2" stroke="#000" stroke-width="1.6" fill="none"/>
<path d="M311.55 798H320.35M315.95 793.6V802.4" stroke="#000" stroke-width="1.6" fill="none"/>
<path d="M325.05 798H333.85M329.45 793.6V802.4" stroke="#000" stroke-width="1.6" fill="none"/>
<path d="M338.55 798H347.35M342.95 793.6V802.4" stroke="#000" stroke-width="1.6" fill="none"/>
<path d="M356.35 736.5H365.15M360.75 732.1V740.9" stroke="#000" stroke-width="1.6" fill="none"/>
<path d="M396.85 736.5H405.65M401.25 732.1V740.9" stroke="#000" stroke-width="1.6" fill="none"/>
<path d="M369.85 756.2H378.65M374.25 751.8V760.6" stroke="#000" stroke-width="1.6" fill="none"/>
<path d="M410.35 756.2H419.15M414.75 751.8V760.6" stroke="#000" stroke-width="1.6" fill="none"/>
<path d="M383.35 777.8H392.15M387.75 773.4V782.2" stroke="#000" stroke-width="1.6" fill="none"/>
<path d="M423.85 777.8H432.65M428.25 773.4V782.2" stroke="#000" stroke-width="1.6" fill="none"/>
<path d="M396.85 798H405.65M401.25 793.6V802.4" stroke="#000" stroke-width="1.6" fill="none"/>
<path d="M410.35 798H419.15M414.75 793.6V802.4" stroke="#000" stroke-width="1.6" fill="none"/>
<path d="M423.85 798H432.65M428.25 793.6V802.4" stroke="#000" stroke-width="1.6" fill="none"/>
<path d="M441.65 736.5H450.45M446.05 732.1V740.9" stroke="#000" stroke-width="1.6" fill="none"/>
<path d="M482.15 736.5H490.95M486.55 732.1V740.9" stroke="#000" stroke-width="1.6" fill="none"/>
<path d="M455.15 756.2H463.95M459.55 751.8V760.6" stroke="#000" stroke-width="1.6" fill="none"/>
<path d="M495.65 756.2H504.45M500.05 751.8V760.6" stroke="#000" stroke-width="1.6" fill="none"/>
<path d="M468.65 777.8H477.45M473.05 773.4V782.2" stroke="#000" stroke-width="1.6" fill="none"/>
<path d="M509.15 777.8H517.95M513.55 773.4V782.2" stroke="#000" stroke-width="1.6" fill="none"/>
<path d="M482.15 798H490.95M486.55 793.6V802.4" stroke="#000" stroke-width="1.6" fill="none"/>
<path d="M495.65 798H504.45M500.05 793.6V802.4" stroke="#000" stroke-width="1.6" fill="none"/>
<path d="M509.15 798H517.95M513.55 793.6V802.4" stroke="#000" stroke-width="1.6" fill="none"/>
<text xml:space="preserve" transform="translate(533.7 741.7) scale(1 1.035)" font-family='"Liberation Sans", sans-serif' font-size="19" text-anchor="start">PI IgG</text>
<path d="M544.06 753.48C543.77 758.7 541.3 762.6 538.55 762.6C535.98 762.6 534.56 760.6 534.56 758.03C534.56 755.38 536.08 753.28 538.64 753.28C541.3 753.28 542.44 756.23 542.92 759.84C543.2 761.93 544.06 762.78 544.82 762.22" fill="none" stroke="#000" stroke-width="1.18" stroke-linecap="round" stroke-linejoin="round"/>
<text xml:space="preserve" transform="translate(545.69 762.5) scale(1 1.035)" font-family='"Liberation Sans", sans-serif' font-size="19" text-anchor="start">cKp IgG</text>
<path d="M544.06 774.68C543.77 779.9 541.3 783.8 538.55 783.8C535.98 783.8 534.56 781.8 534.56 779.24C534.56 776.58 536.08 774.49 538.64 774.49C541.3 774.49 542.44 777.43 542.92 781.04C543.2 783.13 544.06 783.99 544.82 783.42" fill="none" stroke="#000" stroke-width="1.18" stroke-linecap="round" stroke-linejoin="round"/>
<text xml:space="preserve" transform="translate(545.69 783.7) scale(1 1.035)" font-family='"Liberation Sans", sans-serif' font-size="19" text-anchor="start">cKp<tspan font-size="12" dy="2">CRM </tspan><tspan dy="-2">IgG</tspan></text>
<text xml:space="preserve" transform="translate(533.7 804.8) scale(1 1.035)" font-family='"Liberation Sans", sans-serif' font-size="19" text-anchor="start">PMNs</text>
<rect x="535.1" y="516" width="12.9" height="16" fill="#5AA0FA"/>
<text xml:space="preserve" transform="translate(553.5 531.1) scale(1 1.035)" font-family='"Liberation Sans", sans-serif' font-size="19" text-anchor="start">30684 (KL107/ST258)</text>
<rect x="535.1" y="539.75" width="12.9" height="16" fill="#808080"/>
<text xml:space="preserve" transform="translate(553.5 554.85) scale(1 1.035)" font-family='"Liberation Sans", sans-serif' font-size="19" text-anchor="start">50219 (KL106/ST258)</text>
<rect x="535.1" y="563.5" width="12.9" height="16" fill="#800080"/>
<text xml:space="preserve" transform="translate(553.5 578.6) scale(1 1.035)" font-family='"Liberation Sans", sans-serif' font-size="19" text-anchor="start">50220 (KL51/ST258)</text>
<rect x="535.1" y="587.25" width="12.9" height="16" fill="#946420"/>
<text xml:space="preserve" transform="translate(553.5 602.35) scale(1 1.035)" font-family='"Liberation Sans", sans-serif' font-size="19" text-anchor="start">56203 (KL102/ST307)</text>
<rect x="535.1" y="611" width="12.9" height="16" fill="#0000FF"/>
<text xml:space="preserve" transform="translate(553.5 626.1) scale(1 1.035)" font-family='"Liberation Sans", sans-serif' font-size="19" text-anchor="start">56661 (KL64/ST147)</text>
<text xml:space="preserve" transform="translate(-2 449.5) scale(1 1.035)" font-family='"Liberation Sans", sans-serif' font-size="27.4" text-anchor="start">B.</text>
<text transform="translate(33 676) rotate(-90)" font-family='"Liberation Sans", sans-serif' font-size="23.8">Percent survival</text>
<rect x="98.3" y="898.5" width="12.4" height="223.4" fill="#946420"/>
<line x1="118.2" y1="934" x2="118.2" y2="967.6" stroke="#946420" stroke-width="2.3" stroke-linecap="butt"/>
<line x1="114.6" y1="934" x2="121.8" y2="934" stroke="#946420" stroke-width="1.9" stroke-linecap="butt"/>
<rect x="112" y="967.1" width="12.4" height="154.8" fill="#946420"/>
<line x1="131.9" y1="1107.7" x2="131.9" y2="1111.6" stroke="#946420" stroke-width="2.3" stroke-linecap="butt"/>
<line x1="128.3" y1="1107.7" x2="135.5" y2="1107.7" stroke="#946420" stroke-width="1.9" stroke-linecap="butt"/>
<rect x="125.7" y="1111.1" width="12.4" height="10.8" fill="#946420"/>
<line x1="145.6" y1="1088" x2="145.6" y2="1099.9" stroke="#946420" stroke-width="2.3" stroke-linecap="butt"/>
<line x1="142" y1="1088" x2="149.2" y2="1088" stroke="#946420" stroke-width="1.9" stroke-linecap="butt"/>
<rect x="139.4" y="1099.4" width="12.4" height="22.5" fill="#946420"/>
<rect x="158.27" y="898.5" width="12.4" height="223.4" fill="#086A46"/>
<line x1="178.17" y1="922.2" x2="178.17" y2="934.7" stroke="#086A46" stroke-width="2.3" stroke-linecap="butt"/>
<line x1="174.57" y1="922.2" x2="181.77" y2="922.2" stroke="#086A46" stroke-width="1.9" stroke-linecap="butt"/>
<rect x="171.97" y="934.2" width="12.4" height="187.7" fill="#086A46"/>
<line x1="191.87" y1="1070.1" x2="191.87" y2="1082.8" stroke="#086A46" stroke-width="2.3" stroke-linecap="butt"/>
<line x1="188.27" y1="1070.1" x2="195.47" y2="1070.1" stroke="#086A46" stroke-width="1.9" stroke-linecap="butt"/>
<rect x="185.67" y="1082.3" width="12.4" height="39.6" fill="#086A46"/>
<line x1="205.57" y1="1115.3" x2="205.57" y2="1118.3" stroke="#086A46" stroke-width="2.3" stroke-linecap="butt"/>
<line x1="201.97" y1="1115.3" x2="209.17" y2="1115.3" stroke="#086A46" stroke-width="1.9" stroke-linecap="butt"/>
<rect x="199.37" y="1117.8" width="12.4" height="4.1" fill="#086A46"/>
<rect x="218.24" y="898.5" width="12.4" height="223.4" fill="#00007F"/>
<line x1="238.14" y1="894.8" x2="238.14" y2="923.2" stroke="#00007F" stroke-width="2.3" stroke-linecap="butt"/>
<line x1="234.54" y1="894.8" x2="241.74" y2="894.8" stroke="#00007F" stroke-width="1.9" stroke-linecap="butt"/>
<rect x="231.94" y="922.7" width="12.4" height="199.2" fill="#00007F"/>
<line x1="251.84" y1="1116" x2="251.84" y2="1119.5" stroke="#00007F" stroke-width="2.3" stroke-linecap="butt"/>
<line x1="248.24" y1="1116" x2="255.44" y2="1116" stroke="#00007F" stroke-width="1.9" stroke-linecap="butt"/>
<rect x="245.64" y="1119" width="12.4" height="2.9" fill="#00007F"/>
<line x1="265.54" y1="1111.3" x2="265.54" y2="1116.5" stroke="#00007F" stroke-width="2.3" stroke-linecap="butt"/>
<line x1="261.94" y1="1111.3" x2="269.14" y2="1111.3" stroke="#00007F" stroke-width="1.9" stroke-linecap="butt"/>
<rect x="259.34" y="1116" width="12.4" height="5.9" fill="#00007F"/>
<rect x="278.2" y="898.5" width="12.4" height="223.4" fill="#606060"/>
<line x1="298.1" y1="966.4" x2="298.1" y2="991.3" stroke="#606060" stroke-width="2.3" stroke-linecap="butt"/>
<line x1="294.5" y1="966.4" x2="301.7" y2="966.4" stroke="#606060" stroke-width="1.9" stroke-linecap="butt"/>
<rect x="291.9" y="990.8" width="12.4" height="131.1" fill="#606060"/>
<line x1="311.8" y1="986.3" x2="311.8" y2="1006.8" stroke="#606060" stroke-width="2.3" stroke-linecap="butt"/>
<line x1="308.2" y1="986.3" x2="315.4" y2="986.3" stroke="#606060" stroke-width="1.9" stroke-linecap="butt"/>
<rect x="305.6" y="1006.3" width="12.4" height="115.6" fill="#606060"/>
<line x1="325.5" y1="1105.8" x2="325.5" y2="1109.8" stroke="#606060" stroke-width="2.3" stroke-linecap="butt"/>
<line x1="321.9" y1="1105.8" x2="329.1" y2="1105.8" stroke="#606060" stroke-width="1.9" stroke-linecap="butt"/>
<rect x="319.3" y="1109.3" width="12.4" height="12.6" fill="#606060"/>
<rect x="338.18" y="898.5" width="12.4" height="223.4" fill="#B0A572"/>
<line x1="358.08" y1="969.6" x2="358.08" y2="999.5" stroke="#B0A572" stroke-width="2.3" stroke-linecap="butt"/>
<line x1="354.48" y1="969.6" x2="361.68" y2="969.6" stroke="#B0A572" stroke-width="1.9" stroke-linecap="butt"/>
<rect x="351.88" y="999" width="12.4" height="122.9" fill="#B0A572"/>
<line x1="371.78" y1="1108" x2="371.78" y2="1116" stroke="#B0A572" stroke-width="2.3" stroke-linecap="butt"/>
<line x1="368.18" y1="1108" x2="375.38" y2="1108" stroke="#B0A572" stroke-width="1.9" stroke-linecap="butt"/>
<rect x="365.58" y="1115.5" width="12.4" height="6.4" fill="#B0A572"/>
<line x1="385.48" y1="1113" x2="385.48" y2="1118" stroke="#B0A572" stroke-width="2.3" stroke-linecap="butt"/>
<line x1="381.88" y1="1113" x2="389.08" y2="1113" stroke="#B0A572" stroke-width="1.9" stroke-linecap="butt"/>
<rect x="379.28" y="1117.5" width="12.4" height="4.4" fill="#B0A572"/>
<rect x="398.15" y="898.5" width="12.4" height="223.4" fill="#8AA9D4"/>
<line x1="418.05" y1="914.8" x2="418.05" y2="970.6" stroke="#8C8CD8" stroke-width="2.3" stroke-linecap="butt"/>
<line x1="414.45" y1="914.8" x2="421.65" y2="914.8" stroke="#8C8CD8" stroke-width="1.9" stroke-linecap="butt"/>
<rect x="411.85" y="970.1" width="12.4" height="151.8" fill="#8AA9D4"/>
<line x1="431.75" y1="1096.9" x2="431.75" y2="1112.8" stroke="#8C8CD8" stroke-width="2.3" stroke-linecap="butt"/>
<line x1="428.15" y1="1096.9" x2="435.35" y2="1096.9" stroke="#8C8CD8" stroke-width="1.9" stroke-linecap="butt"/>
<rect x="425.55" y="1112.3" width="12.4" height="9.6" fill="#8AA9D4"/>
<line x1="445.45" y1="1111" x2="445.45" y2="1119.1" stroke="#8C8CD8" stroke-width="2.3" stroke-linecap="butt"/>
<line x1="441.85" y1="1111" x2="449.05" y2="1111" stroke="#8C8CD8" stroke-width="1.9" stroke-linecap="butt"/>
<rect x="439.25" y="1118.6" width="12.4" height="3.3" fill="#8AA9D4"/>
<rect x="458.1" y="898.5" width="12.4" height="223.4" fill="#8C8CFC"/>
<line x1="478" y1="902.3" x2="478" y2="946.5" stroke="#8C8CFC" stroke-width="2.3" stroke-linecap="butt"/>
<line x1="474.4" y1="902.3" x2="481.6" y2="902.3" stroke="#8C8CFC" stroke-width="1.9" stroke-linecap="butt"/>
<rect x="471.8" y="946" width="12.4" height="175.9" fill="#8C8CFC"/>
<rect x="485.5" y="1121.3" width="12.4" height="0.6" fill="#8C8CFC"/>
<line x1="505.4" y1="1119.6" x2="505.4" y2="1121.5" stroke="#8C8CFC" stroke-width="2.3" stroke-linecap="butt"/>
<line x1="501.8" y1="1119.6" x2="509" y2="1119.6" stroke="#8C8CFC" stroke-width="1.9" stroke-linecap="butt"/>
<rect x="499.2" y="1121" width="12.4" height="0.9" fill="#8C8CFC"/>
<line x1="92" y1="828" x2="92" y2="1124.9" stroke="#000" stroke-width="1.9" stroke-linecap="butt"/>
<line x1="80" y1="1122.7" x2="532.5" y2="1122.7" stroke="#000" stroke-width="2.1" stroke-linecap="butt"/>
<line x1="80.5" y1="853.7" x2="92" y2="853.7" stroke="#000" stroke-width="2.2" stroke-linecap="butt"/>
<text xml:space="preserve" transform="translate(79.5 861.7) scale(1 1.035)" font-family='"Liberation Sans", sans-serif' font-size="23" text-anchor="end">120</text>
<line x1="80.5" y1="898.6" x2="92" y2="898.6" stroke="#000" stroke-width="2.2" stroke-linecap="butt"/>
<text xml:space="preserve" transform="translate(79.5 906.6) scale(1 1.035)" font-family='"Liberation Sans", sans-serif' font-size="23" text-anchor="end">100</text>
<line x1="80.5" y1="943.4" x2="92" y2="943.4" stroke="#000" stroke-width="2.2" stroke-linecap="butt"/>
<text xml:space="preserve" transform="translate(79.5 951.4) scale(1 1.035)" font-family='"Liberation Sans", sans-serif' font-size="23" text-anchor="end">80</text>
<line x1="80.5" y1="988.2" x2="92" y2="988.2" stroke="#000" stroke-width="2.2" stroke-linecap="butt"/>
<text xml:space="preserve" transform="translate(79.5 996.2) scale(1 1.035)" font-family='"Liberation Sans", sans-serif' font-size="23" text-anchor="end">60</text>
<line x1="80.5" y1="1033.1" x2="92" y2="1033.1" stroke="#000" stroke-width="2.2" stroke-linecap="butt"/>
<text xml:space="preserve" transform="translate(79.5 1041.1) scale(1 1.035)" font-family='"Liberation Sans", sans-serif' font-size="23" text-anchor="end">40</text>
<line x1="80.5" y1="1077.9" x2="92" y2="1077.9" stroke="#000" stroke-width="2.2" stroke-linecap="butt"/>
<text xml:space="preserve" transform="translate(79.5 1085.9) scale(1 1.035)" font-family='"Liberation Sans", sans-serif' font-size="23" text-anchor="end">20</text>
<text xml:space="preserve" transform="translate(79.5 1130.7) scale(1 1.035)" font-family='"Liberation Sans", sans-serif' font-size="23" text-anchor="end">0</text>
<line x1="104.5" y1="885.1" x2="139.9" y2="885.1" stroke="#000" stroke-width="2.3" stroke-linecap="butt"/>
<line x1="118.2" y1="901.5" x2="139.9" y2="901.5" stroke="#000" stroke-width="2.3" stroke-linecap="butt"/>
<line x1="138.75" y1="885.1" x2="138.75" y2="919.8" stroke="#000" stroke-width="2.3" stroke-linecap="butt"/>
<path d="M131.9 928.3V919.8H145.6V928.3" fill="none" stroke="#000" stroke-width="2.3" stroke-linejoin="miter"/>
<text xml:space="preserve" transform="translate(123.4 889.7) scale(1 1)" font-family='"Liberation Sans", sans-serif' font-size="19.5" text-anchor="middle" stroke="#000" stroke-width="0.25">*</text>
<text xml:space="preserve" transform="translate(127.7 906) scale(1 1)" font-family='"Liberation Sans", sans-serif' font-size="19.5" text-anchor="middle" stroke="#000" stroke-width="0.25">*</text>
<line x1="164.47" y1="884.9" x2="199.87" y2="884.9" stroke="#000" stroke-width="2.3" stroke-linecap="butt"/>
<line x1="178.17" y1="901.4" x2="199.87" y2="901.4" stroke="#000" stroke-width="2.3" stroke-linecap="butt"/>
<line x1="198.72" y1="884.9" x2="198.72" y2="919.8" stroke="#000" stroke-width="2.3" stroke-linecap="butt"/>
<path d="M191.87 928.2V919.8H205.57V928.2" fill="none" stroke="#000" stroke-width="2.3" stroke-linejoin="miter"/>
<text xml:space="preserve" transform="translate(183.2 889.4) scale(1 1)" font-family='"Liberation Sans", sans-serif' font-size="19.5" text-anchor="middle" stroke="#000" stroke-width="0.25">*</text>
<text xml:space="preserve" transform="translate(187.4 905.7) scale(1 1)" font-family='"Liberation Sans", sans-serif' font-size="19.5" text-anchor="middle" stroke="#000" stroke-width="0.25">*</text>
<path d="M164.47 868.7V860.4H178.17V868.7" fill="none" stroke="#000" stroke-width="2.3" stroke-linejoin="miter"/>
<text xml:space="preserve" transform="translate(171.4 864.4) scale(1 1)" font-family='"Liberation Sans", sans-serif' font-size="19.5" text-anchor="middle" stroke="#000" stroke-width="0.25">*</text>
<path d="M191.87 1064.4V1056.4H205.57V1064.4" fill="none" stroke="#000" stroke-width="2.3" stroke-linejoin="miter"/>
<text xml:space="preserve" transform="translate(198.6 1060.8) scale(1 1)" font-family='"Liberation Sans", sans-serif' font-size="19.5" text-anchor="middle" stroke="#000" stroke-width="0.25">*</text>
<line x1="224.44" y1="871.1" x2="259.84" y2="871.1" stroke="#000" stroke-width="2.3" stroke-linecap="butt"/>
<line x1="238.14" y1="887.3" x2="259.84" y2="887.3" stroke="#000" stroke-width="2.3" stroke-linecap="butt"/>
<line x1="258.69" y1="871.1" x2="258.69" y2="906.5" stroke="#000" stroke-width="2.3" stroke-linecap="butt"/>
<path d="M251.84 914.8V906.5H265.54V914.8" fill="none" stroke="#000" stroke-width="2.3" stroke-linejoin="miter"/>
<text xml:space="preserve" transform="translate(242.3 875.6) scale(1 1)" font-family='"Liberation Sans", sans-serif' font-size="19.5" text-anchor="middle" stroke="#000" stroke-width="0.25">*</text>
<text xml:space="preserve" transform="translate(247.8 891.8) scale(1 1)" font-family='"Liberation Sans", sans-serif' font-size="19.5" text-anchor="middle" stroke="#000" stroke-width="0.25">*</text>
<path d="M284.4 868.7V860.4H298.1V868.7" fill="none" stroke="#000" stroke-width="2.3" stroke-linejoin="miter"/>
<text xml:space="preserve" transform="translate(290.9 864.4) scale(1 1)" font-family='"Liberation Sans", sans-serif' font-size="19.5" text-anchor="middle" stroke="#000" stroke-width="0.25">*</text>
<line x1="284.4" y1="884.9" x2="312.95" y2="884.9" stroke="#000" stroke-width="2.3" stroke-linecap="butt"/>
<line x1="311.8" y1="884.9" x2="311.8" y2="904.8" stroke="#000" stroke-width="2.3" stroke-linecap="butt"/>
<path d="M298.1 912.5V904.8H325.5V912.5M311.8 904.8V912.5" fill="none" stroke="#000" stroke-width="2.3" stroke-linejoin="miter"/>
<text xml:space="preserve" transform="translate(299.1 889.4) scale(1 1)" font-family='"Liberation Sans", sans-serif' font-size="19.5" text-anchor="middle" stroke="#000" stroke-width="0.25">*</text>
<path d="M298.1 952.7V943.9H325.5V952.7" fill="none" stroke="#000" stroke-width="2.3" stroke-linejoin="miter"/>
<text xml:space="preserve" transform="translate(311.6 948.5) scale(1 1)" font-family='"Liberation Sans", sans-serif' font-size="19.5" text-anchor="middle" stroke="#000" stroke-width="0.25">*</text>
<path d="M311.8 978.9V970.1H325.5V978.9" fill="none" stroke="#000" stroke-width="2.3" stroke-linejoin="miter"/>
<text xml:space="preserve" transform="translate(318.3 974.1) scale(1 1)" font-family='"Liberation Sans", sans-serif' font-size="19.5" text-anchor="middle" stroke="#000" stroke-width="0.25">*</text>
<line x1="344.38" y1="884.3" x2="379.78" y2="884.3" stroke="#000" stroke-width="2.3" stroke-linecap="butt"/>
<line x1="358.08" y1="900.6" x2="379.78" y2="900.6" stroke="#000" stroke-width="2.3" stroke-linecap="butt"/>
<line x1="378.63" y1="884.3" x2="378.63" y2="919.3" stroke="#000" stroke-width="2.3" stroke-linecap="butt"/>
<path d="M371.78 927.8V919.3H385.48V927.8" fill="none" stroke="#000" stroke-width="2.3" stroke-linejoin="miter"/>
<text xml:space="preserve" transform="translate(361.9 888.7) scale(1 1)" font-family='"Liberation Sans", sans-serif' font-size="19.5" text-anchor="middle" stroke="#000" stroke-width="0.25">*</text>
<text xml:space="preserve" transform="translate(366.7 904.9) scale(1 1)" font-family='"Liberation Sans", sans-serif' font-size="19.5" text-anchor="middle" stroke="#000" stroke-width="0.25">*</text>
<line x1="404.35" y1="884.3" x2="439.75" y2="884.3" stroke="#000" stroke-width="2.3" stroke-linecap="butt"/>
<line x1="418.05" y1="900.6" x2="439.75" y2="900.6" stroke="#000" stroke-width="2.3" stroke-linecap="butt"/>
<line x1="438.6" y1="884.3" x2="438.6" y2="919.3" stroke="#000" stroke-width="2.3" stroke-linecap="butt"/>
<path d="M431.75 927.8V919.3H445.45V927.8" fill="none" stroke="#000" stroke-width="2.3" stroke-linejoin="miter"/>
<text xml:space="preserve" transform="translate(421.9 888.7) scale(1 1)" font-family='"Liberation Sans", sans-serif' font-size="19.5" text-anchor="middle" stroke="#000" stroke-width="0.25">*</text>
<text xml:space="preserve" transform="translate(426.7 904.9) scale(1 1)" font-family='"Liberation Sans", sans-serif' font-size="19.5" text-anchor="middle" stroke="#000" stroke-width="0.25">*</text>
<line x1="464.3" y1="879.1" x2="499.7" y2="879.1" stroke="#000" stroke-width="2.3" stroke-linecap="butt"/>
<line x1="478" y1="895.3" x2="499.7" y2="895.3" stroke="#000" stroke-width="2.3" stroke-linecap="butt"/>
<line x1="498.55" y1="879.1" x2="498.55" y2="914.3" stroke="#000" stroke-width="2.3" stroke-linecap="butt"/>
<path d="M491.7 922.7V914.3H505.4V922.7" fill="none" stroke="#000" stroke-width="2.3" stroke-linejoin="miter"/>
<text xml:space="preserve" transform="translate(485.1 883.6) scale(1 1)" font-family='"Liberation Sans", sans-serif' font-size="19.5" text-anchor="middle" stroke="#000" stroke-width="0.25">*</text>
<text xml:space="preserve" transform="translate(485.9 900.3) scale(1 1)" font-family='"Liberation Sans", sans-serif' font-size="19.5" text-anchor="middle" stroke="#000" stroke-width="0.25">*</text>
<path d="M464.3 868.7V860.4H478V868.7" fill="none" stroke="#000" stroke-width="2.3" stroke-linejoin="miter"/>
<text xml:space="preserve" transform="translate(470.5 864.3) scale(1 1)" font-family='"Liberation Sans", sans-serif' font-size="19.5" text-anchor="middle" stroke="#000" stroke-width="0.25">*</text>
<path d="M99.6 1135.9H108.4M104 1131.5V1140.3" stroke="#000" stroke-width="1.6" fill="none"/>
<path d="M127 1135.9H135.8M131.4 1131.5V1140.3" stroke="#000" stroke-width="1.6" fill="none"/>
<path d="M113.3 1156.2H122.1M117.7 1151.8V1160.6" stroke="#000" stroke-width="1.6" fill="none"/>
<path d="M140.7 1156.2H149.5M145.1 1151.8V1160.6" stroke="#000" stroke-width="1.6" fill="none"/>
<path d="M127 1197H135.8M131.4 1192.6V1201.4" stroke="#000" stroke-width="1.6" fill="none"/>
<path d="M140.7 1197H149.5M145.1 1192.6V1201.4" stroke="#000" stroke-width="1.6" fill="none"/>
<path d="M159.57 1135.9H168.37M163.97 1131.5V1140.3" stroke="#000" stroke-width="1.6" fill="none"/>
<path d="M186.97 1135.9H195.77M191.37 1131.5V1140.3" stroke="#000" stroke-width="1.6" fill="none"/>
<path d="M173.27 1156.2H182.07M177.67 1151.8V1160.6" stroke="#000" stroke-width="1.6" fill="none"/>
<path d="M200.67 1156.2H209.47M205.07 1151.8V1160.6" stroke="#000" stroke-width="1.6" fill="none"/>
<path d="M186.97 1197H195.77M191.37 1192.6V1201.4" stroke="#000" stroke-width="1.6" fill="none"/>
<path d="M200.67 1197H209.47M205.07 1192.6V1201.4" stroke="#000" stroke-width="1.6" fill="none"/>
<path d="M219.54 1135.9H228.34M223.94 1131.5V1140.3" stroke="#000" stroke-width="1.6" fill="none"/>
<path d="M246.94 1135.9H255.74M251.34 1131.5V1140.3" stroke="#000" stroke-width="1.6" fill="none"/>
<path d="M233.24 1156.2H242.04M237.64 1151.8V1160.6" stroke="#000" stroke-width="1.6" fill="none"/>
<path d="M260.64 1156.2H269.44M265.04 1151.8V1160.6" stroke="#000" stroke-width="1.6" fill="none"/>
<path d="M246.94 1197H255.74M251.34 1192.6V1201.4" stroke="#000" stroke-width="1.6" fill="none"/>
<path d="M260.64 1197H269.44M265.04 1192.6V1201.4" stroke="#000" stroke-width="1.6" fill="none"/>
<path d="M279.5 1135.9H288.3M283.9 1131.5V1140.3" stroke="#000" stroke-width="1.6" fill="none"/>
<path d="M306.9 1135.9H315.7M311.3 1131.5V1140.3" stroke="#000" stroke-width="1.6" fill="none"/>
<path d="M293.2 1156.2H302M297.6 1151.8V1160.6" stroke="#000" stroke-width="1.6" fill="none"/>
<path d="M320.6 1156.2H329.4M325 1151.8V1160.6" stroke="#000" stroke-width="1.6" fill="none"/>
<path d="M306.9 1197H315.7M311.3 1192.6V1201.4" stroke="#000" stroke-width="1.6" fill="none"/>
<path d="M320.6 1197H329.4M325 1192.6V1201.4" stroke="#000" stroke-width="1.6" fill="none"/>
<path d="M339.48 1135.9H348.28M343.88 1131.5V1140.3" stroke="#000" stroke-width="1.6" fill="none"/>
<path d="M366.88 1135.9H375.68M371.28 1131.5V1140.3" stroke="#000" stroke-width="1.6" fill="none"/>
<path d="M353.18 1175.6H361.98M357.58 1171.2V1180" stroke="#000" stroke-width="1.6" fill="none"/>
<path d="M380.58 1175.6H389.38M384.98 1171.2V1180" stroke="#000" stroke-width="1.6" fill="none"/>
<path d="M366.88 1197H375.68M371.28 1192.6V1201.4" stroke="#000" stroke-width="1.6" fill="none"/>
<path d="M380.58 1197H389.38M384.98 1192.6V1201.4" stroke="#000" stroke-width="1.6" fill="none"/>
<path d="M399.45 1135.9H408.25M403.85 1131.5V1140.3" stroke="#000" stroke-width="1.6" fill="none"/>
<path d="M426.85 1135.9H435.65M431.25 1131.5V1140.3" stroke="#000" stroke-width="1.6" fill="none"/>
<path d="M413.15 1175.6H421.95M417.55 1171.2V1180" stroke="#000" stroke-width="1.6" fill="none"/>
<path d="M440.55 1175.6H449.35M444.95 1171.2V1180" stroke="#000" stroke-width="1.6" fill="none"/>
<path d="M426.85 1197H435.65M431.25 1192.6V1201.4" stroke="#000" stroke-width="1.6" fill="none"/>
<path d="M440.55 1197H449.35M444.95 1192.6V1201.4" stroke="#000" stroke-width="1.6" fill="none"/>
<path d="M459.4 1135.9H468.2M463.8 1131.5V1140.3" stroke="#000" stroke-width="1.6" fill="none"/>
<path d="M486.8 1135.9H495.6M491.2 1131.5V1140.3" stroke="#000" stroke-width="1.6" fill="none"/>
<path d="M473.1 1175.6H481.9M477.5 1171.2V1180" stroke="#000" stroke-width="1.6" fill="none"/>
<path d="M500.5 1175.6H509.3M504.9 1171.2V1180" stroke="#000" stroke-width="1.6" fill="none"/>
<path d="M486.8 1197H495.6M491.2 1192.6V1201.4" stroke="#000" stroke-width="1.6" fill="none"/>
<path d="M500.5 1197H509.3M504.9 1192.6V1201.4" stroke="#000" stroke-width="1.6" fill="none"/>
<text xml:space="preserve" transform="translate(523.9 1141.4) scale(1 1.035)" font-family='"Liberation Sans", sans-serif' font-size="19" text-anchor="start">PI IgG</text>
<path d="M534.25 1152.47C533.97 1157.7 531.5 1161.6 528.75 1161.6C526.18 1161.6 524.75 1159.6 524.75 1157.04C524.75 1154.38 526.27 1152.29 528.84 1152.29C531.5 1152.29 532.64 1155.23 533.12 1158.84C533.4 1160.93 534.25 1161.79 535.01 1161.21" fill="none" stroke="#000" stroke-width="1.18" stroke-linecap="round" stroke-linejoin="round"/>
<text xml:space="preserve" transform="translate(535.89 1161.5) scale(1 1.035)" font-family='"Liberation Sans", sans-serif' font-size="19" text-anchor="start">hvKp<tspan font-size="12" dy="2">CRM </tspan><tspan dy="-2">IgG</tspan></text>
<path d="M534.25 1172.47C533.97 1177.7 531.5 1181.6 528.75 1181.6C526.18 1181.6 524.75 1179.6 524.75 1177.04C524.75 1174.38 526.27 1172.29 528.84 1172.29C531.5 1172.29 532.64 1175.23 533.12 1178.84C533.4 1180.93 534.25 1181.79 535.01 1181.21" fill="none" stroke="#000" stroke-width="1.18" stroke-linecap="round" stroke-linejoin="round"/>
<text xml:space="preserve" transform="translate(535.89 1181.5) scale(1 1.035)" font-family='"Liberation Sans", sans-serif' font-size="19" text-anchor="start">cKp<tspan font-size="12" dy="2">CRM </tspan><tspan dy="-2">IgG</tspan></text>
<text xml:space="preserve" transform="translate(523.9 1203.5) scale(1 1.035)" font-family='"Liberation Sans", sans-serif' font-size="19" text-anchor="start">PMNs</text>
<rect x="538.9" y="899.8" width="13" height="16" fill="#946420"/>
<text xml:space="preserve" transform="translate(555.1 914.9) scale(1 1.035)" font-family='"Liberation Sans", sans-serif' font-size="19.25" text-anchor="start">70222 (KL3/ST13)</text>
<rect x="538.9" y="923.7" width="13" height="16" fill="#086A46"/>
<text xml:space="preserve" transform="translate(555.1 938.8) scale(1 1.035)" font-family='"Liberation Sans", sans-serif' font-size="19.25" text-anchor="start">70478 (KL15/ST37)</text>
<rect x="538.9" y="947.6" width="13" height="16" fill="#00007F"/>
<text xml:space="preserve" transform="translate(555.1 962.7) scale(1 1.035)" font-family='"Liberation Sans", sans-serif' font-size="19.25" text-anchor="start">70431 (KL114/ST219)</text>
<rect x="538.9" y="971.5" width="13" height="16" fill="#606060"/>
<text xml:space="preserve" transform="translate(555.1 986.6) scale(1 1.035)" font-family='"Liberation Sans", sans-serif' font-size="19.25" text-anchor="start">72420 (KL2/ST39)</text>
<rect x="538.9" y="995.4" width="13" height="16" fill="#B0A572"/>
<text xml:space="preserve" transform="translate(555.1 1010.5) scale(1 1.035)" font-family='"Liberation Sans", sans-serif' font-size="19.25" text-anchor="start">69954 (KL102/ST307)</text>
<rect x="538.9" y="1019.3" width="13" height="16" fill="#8AA9D4"/>
<text xml:space="preserve" transform="translate(555.1 1034.4) scale(1 1.035)" font-family='"Liberation Sans", sans-serif' font-size="19.25" text-anchor="start">70931 (KL106/ST258)</text>
<rect x="538.9" y="1043.2" width="13" height="16" fill="#8C8CFC"/>
<text xml:space="preserve" transform="translate(555.1 1058.3) scale(1 1.035)" font-family='"Liberation Sans", sans-serif' font-size="19.25" text-anchor="start">70370 (KL106/ST101)</text>
<text xml:space="preserve" transform="translate(-0.8 851.8) scale(1 1.035)" font-family='"Liberation Sans", sans-serif' font-size="27.4" text-anchor="start">C.</text>
<text transform="translate(33 1076.2) rotate(-90)" font-family='"Liberation Sans", sans-serif' font-size="23.8">Percent survival</text>
</svg>
</body></html>
